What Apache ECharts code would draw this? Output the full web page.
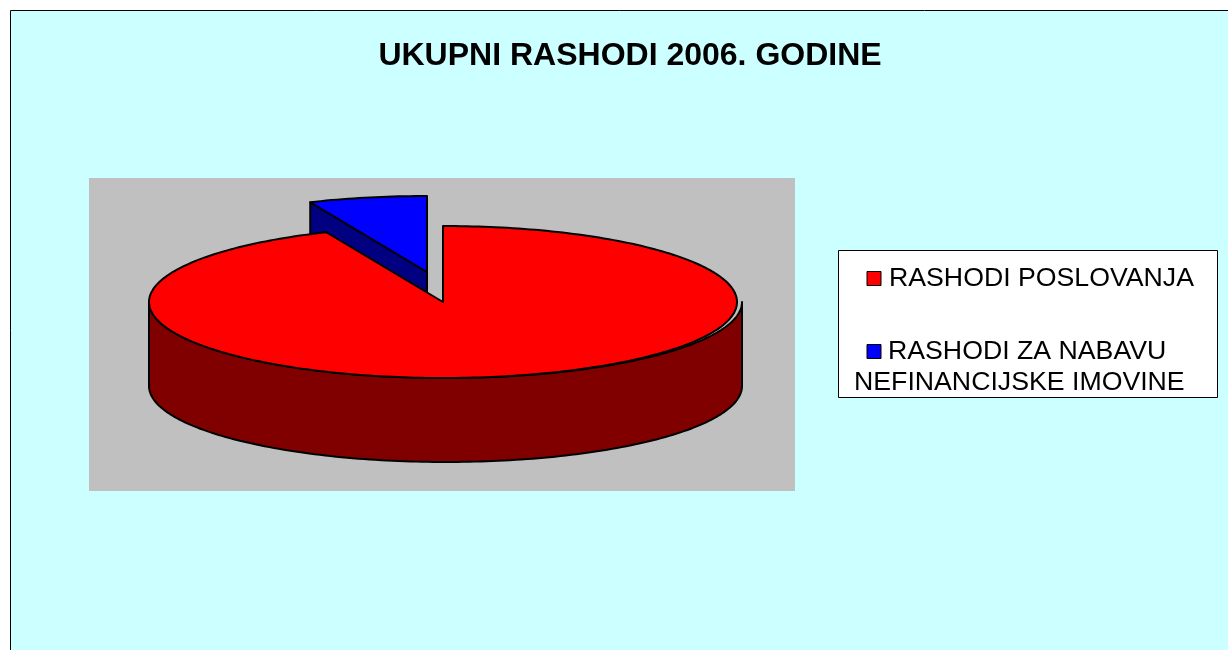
<!DOCTYPE html>
<html>
<head>
<meta charset="utf-8">
<title>UKUPNI RASHODI 2006. GODINE</title>
<script src="https://cdn.jsdelivr.net/npm/echarts@6/dist/echarts.min.js"></script>
<style>
    html, body { margin: 0; padding: 0; background: #fff; }
    #chart { width: 1228px; height: 650px; }
</style>
</head>
<body>
<div id="chart"></div>
<script>
// podaci s grafikona (procjena udjela u %)
const categories = ['RASHODI POSLOVANJA', 'RASHODI ZA NABAVU NEFINANCIJSKE IMOVINE'];
const values = [93.5, 6.5];
const topColors = ['#FF0000', '#0000FF'];
const sideColors = ['#800000', '#000080'];
const chartTitle = 'UKUPNI RASHODI 2006. GODINE';

const FONT = '"Liberation Sans", Arial, sans-serif';
const LEGEND_FONT = '26.7px ' + FONT;
const total = values.reduce((a, b) => a + b, 0);

// izgled "3D" kolača
const pie = { cx: 443, cy: 302, rx: 294, ry: 76, depth: 84 };
const wall = { cx: 445.5, rx: 296.5 };
const explode = [{ x: 0, y: 0 }, { x: -16, y: -30 }];
const outline = { stroke: '#000', lineWidth: 2, lineJoin: 'round' };

// kut raste u smjeru kazaljke od vrha elipse
function ellipsePoint(cx, cy, rx, ry, angle) {
    return [cx + rx * Math.sin(angle), cy - ry * Math.cos(angle)];
}

function arcPoints(cx, cy, rx, ry, from, to) {
    const steps = Math.max(2, Math.ceil(Math.abs(to - from) / 0.02));
    const pts = [];
    for (let i = 0; i <= steps; i++) {
        pts.push(ellipsePoint(cx, cy, rx, ry, from + (to - from) * i / steps));
    }
    return pts;
}

function renderSlice(params, api) {
    const idx = params.dataIndex;
    let start = 0;
    for (let i = 0; i < idx; i++) start += values[i];
    const from = echarts.number.linearMap(start, [0, total], [0, Math.PI * 2]);
    const to = echarts.number.linearMap(start + api.value(0), [0, total], [0, Math.PI * 2]);

    const cx = pie.cx + explode[idx].x;
    const cy = pie.cy + explode[idx].y;
    const children = [];

    // bočna strana
    if (idx === 0) {
        const front = arcPoints(wall.cx, pie.cy, wall.rx, pie.ry, Math.PI * 0.5, Math.PI * 1.5);
        const bottom = front.slice().reverse().map(p => [p[0], p[1] + pie.depth]);
        children.push({
            type: 'polygon', z2: 10,
            shape: { points: front.concat(bottom) },
            style: Object.assign({ fill: sideColors[idx] }, outline)
        });
    } else {
        // prerezana ploha izdvojenog isječka, crvena ploha je prekriva
        const edge = ellipsePoint(cx, cy, pie.rx, pie.ry, from);
        children.push({
            type: 'polygon', z2: 1,
            shape: { points: [[cx, cy], edge, [edge[0], edge[1] + pie.depth], [cx, cy + pie.depth]] },
            style: Object.assign({ fill: sideColors[idx] }, outline)
        });
    }

    // gornja ploha
    children.push({
        type: 'polygon', z2: idx === 0 ? 20 : 2,
        shape: { points: [[cx, cy]].concat(arcPoints(cx, cy, pie.rx, pie.ry, from, to)) },
        style: Object.assign({ fill: topColors[idx] }, outline)
    });

    return { type: 'group', children: children };
}

// pravokutnici pozadine, kutija legende i tekst legende
const graphicElements = [
    { type: 'rect', z: 0, shape: { x: 10.5, y: 10.5, width: 1240, height: 660 },
      style: { fill: '#CCFFFF', stroke: '#000', lineWidth: 1 } },
    { type: 'rect', z: 1, shape: { x: 89, y: 178, width: 706, height: 313 },
      style: { fill: '#C0C0C0' } },
    { type: 'rect', z: 1, shape: { x: 838.5, y: 250.5, width: 379, height: 147 },
      style: { fill: '#fff', stroke: '#000', lineWidth: 1 } },
    { type: 'rect', z: 3, shape: { x: 867, y: 271.5, width: 14, height: 14 },
      style: { fill: topColors[0], stroke: '#000', lineWidth: 1 } },
    { type: 'rect', z: 3, shape: { x: 867, y: 344.5, width: 14, height: 14 },
      style: { fill: topColors[1], stroke: '#000', lineWidth: 1 } },
    { type: 'text', z: 3, x: 889, y: 279,
      style: { text: categories[0], font: LEGEND_FONT, fill: '#000', textVerticalAlign: 'middle' } },
    { type: 'text', z: 3, x: 888, y: 352,
      style: { text: 'RASHODI ZA NABAVU', font: LEGEND_FONT, fill: '#000', textVerticalAlign: 'middle' } },
    { type: 'text', z: 3, x: 854, y: 383,
      style: { text: 'NEFINANCIJSKE IMOVINE', font: LEGEND_FONT, fill: '#000', textVerticalAlign: 'middle' } }
];

const chart = echarts.init(document.getElementById('chart'), null, { renderer: 'canvas' });
chart.setOption({
    animation: false,
    backgroundColor: '#fff',
    title: {
        text: chartTitle,
        left: 625,
        top: 35,
        textAlign: 'center',
        z: 5,
        textStyle: { fontFamily: FONT, fontSize: 32, fontWeight: 'bold', color: '#000' }
    },
    graphic: { elements: graphicElements },
    series: [{
        type: 'custom',
        coordinateSystem: 'none',
        z: 2,
        silent: true,
        renderItem: renderSlice,
        data: values.map((v, i) => ({ name: categories[i], value: [v] }))
    }]
});
</script>
</body>
</html>
